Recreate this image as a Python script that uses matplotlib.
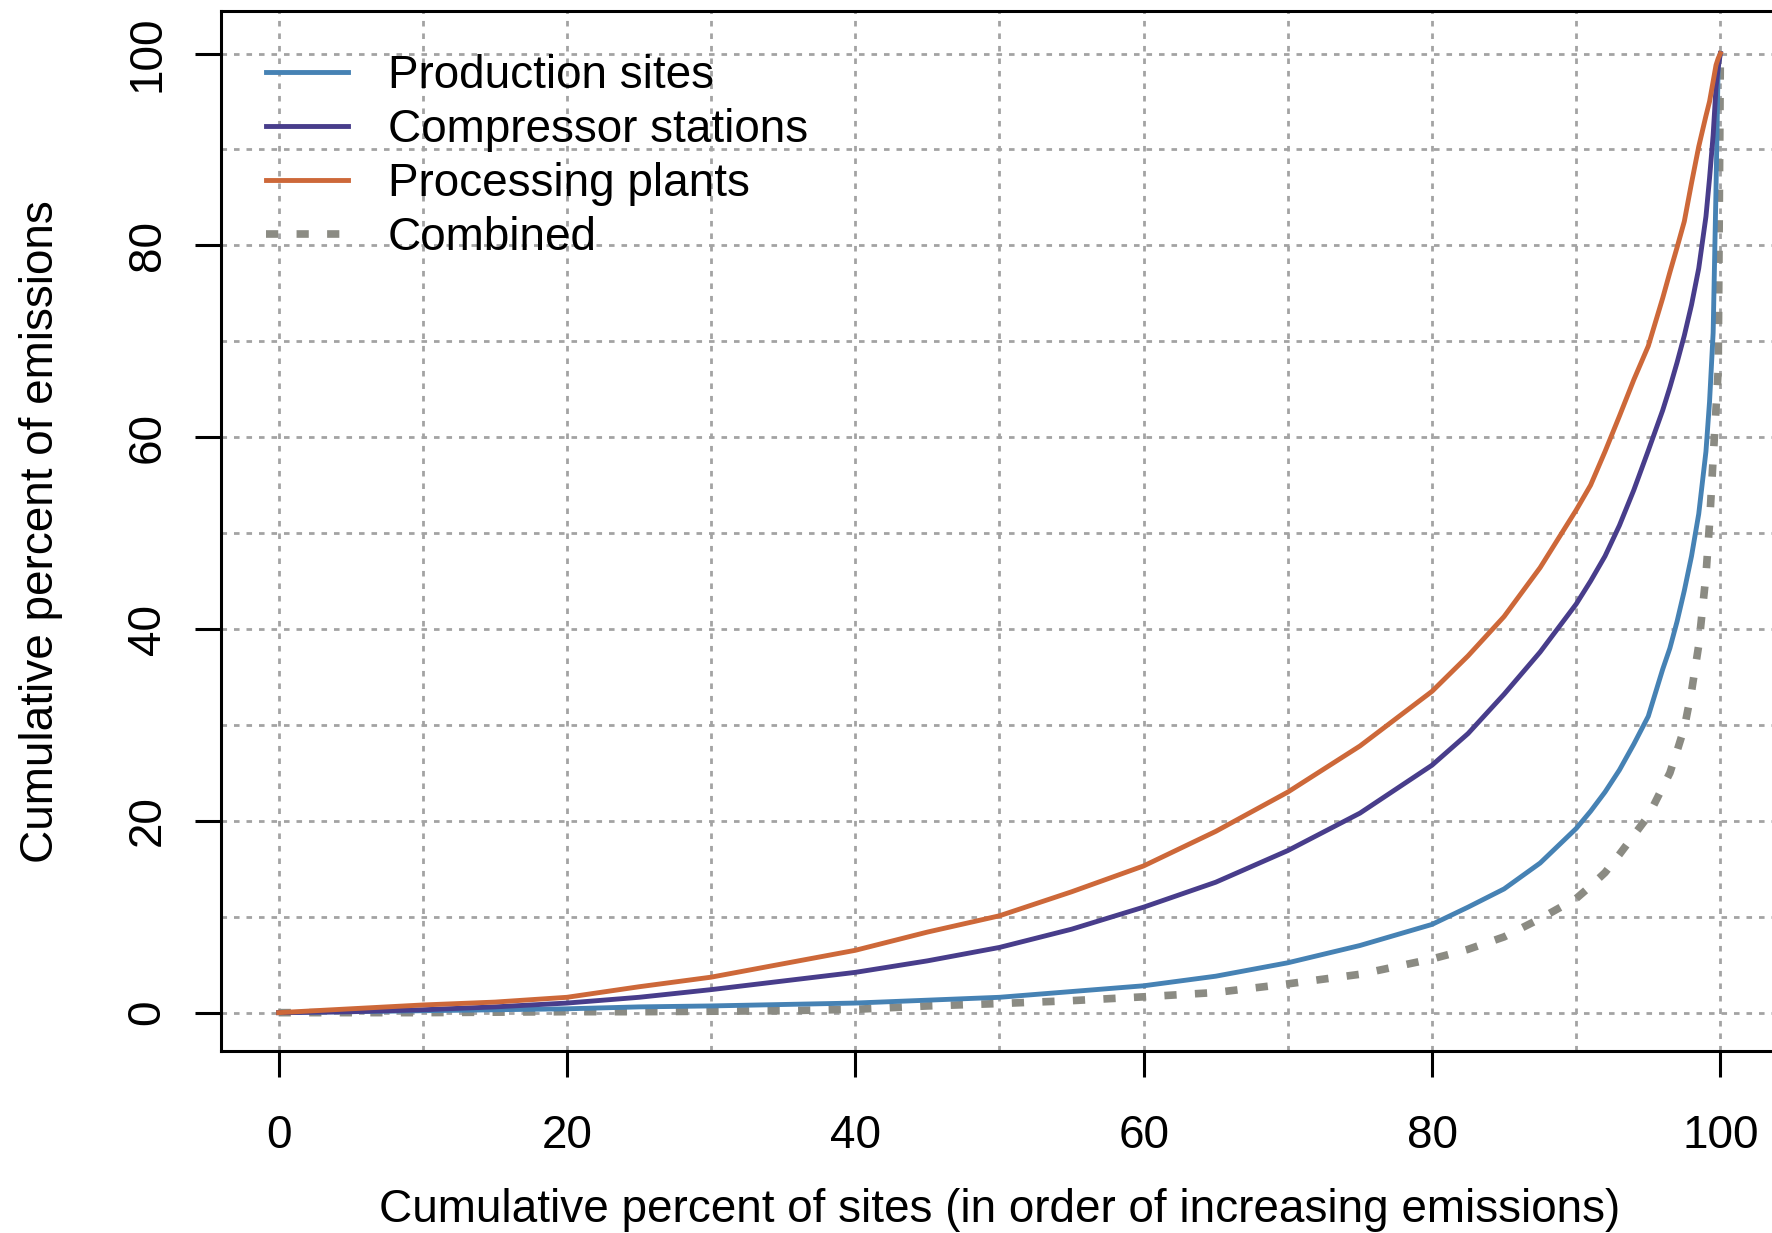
import matplotlib
matplotlib.use("Agg")
import matplotlib.pyplot as plt

plt.rcParams['font.family'] = ['Liberation Sans', 'DejaVu Sans']

# cumulative percent of sites (shared x for all curves)
pct_sites = [0, 5, 10, 15, 20, 25, 30, 35, 40, 45, 50, 55, 60, 65, 70, 75, 80, 82.5, 85, 87.5,
             90, 91, 92, 93, 94, 95, 96, 96.5, 97, 97.5, 98, 98.5, 99, 99.25, 99.5, 99.7, 99.85, 100]

production = [0, 0.1, 0.2, 0.3, 0.4, 0.6, 0.7, 0.85, 1.0, 1.3, 1.6, 2.2, 2.8, 3.8, 5.2, 7.0, 9.2,
              11.0, 12.9, 15.6, 19.2, 21.0, 23.0, 25.3, 28.0, 30.9, 35.8, 38.0, 40.8, 44.0, 47.6,
              52.0, 58.5, 63.7, 70.9, 86, 99, 100]
compressor = [0, 0.1, 0.3, 0.6, 1.0, 1.6, 2.4, 3.3, 4.2, 5.4, 6.8, 8.7, 11.0, 13.6, 16.9, 20.8,
              25.8, 29.1, 33.2, 37.6, 42.6, 45.0, 47.6, 50.8, 54.5, 58.6, 62.8, 65.2, 67.8, 70.6,
              73.8, 77.6, 83, 87, 91.5, 96.5, 98.5, 100]
processing = [0, 0.4, 0.8, 1.1, 1.6, 2.7, 3.7, 5.1, 6.5, 8.4, 10.1, 12.6, 15.3, 18.9, 23.0, 27.8,
              33.5, 37.2, 41.3, 46.4, 52.4, 55.0, 58.5, 62.2, 66.0, 69.5, 74.5, 77.2, 79.8, 82.5,
              86.5, 90.3, 93.5, 95.0, 97.1, 98.8, 99.5, 100]
combined = [0, 0, 0, 0.05, 0.1, 0.1, 0.15, 0.2, 0.35, 0.7, 0.95, 1.25, 1.65, 2.1, 3.0, 4.0, 5.6,
            6.6, 7.9, 9.8, 11.9, 13.2, 14.6, 16.5, 18.5, 20.5, 23.5, 25.0, 27.3, 29.7, 33.5, 38.3,
            45.6, 51, 57.8, 63, 67, 100]

series_names = ['Production sites', 'Compressor stations', 'Processing plants', 'Combined']
series_colors = ['#4682B4', '#483D8B', '#CD6839', '#8B8B83']
ticks = [0, 20, 40, 60, 80, 100]

fig = plt.figure(figsize=(17.72, 12.33), dpi=100)
ax = fig.add_axes([0.1247, 0.1476, 0.8787, 0.8432])

grid_kw = dict(color='#A3A3A3', lw=2.0, linestyle=(0, (2, 2.5)), zorder=1)
for g in range(0, 101, 10):
    ax.axvline(g, **grid_kw)
    ax.axhline(g, **grid_kw)

ax.plot(pct_sites, production, color=series_colors[0], lw=3.5, label=series_names[0], zorder=3)
ax.plot(pct_sites, compressor, color=series_colors[1], lw=3.5, label=series_names[1], zorder=3)
ax.plot(pct_sites, processing, color=series_colors[2], lw=3.5, label=series_names[2], zorder=3)
ax.plot(pct_sites, combined, color=series_colors[3], lw=5.5, linestyle=(0, (1.6, 2.4)),
        label=series_names[3], zorder=2)

ax.set_xlim(-4, 104)
ax.set_ylim(-4, 104.4)
ax.set_xticks(ticks)
ax.set_yticks(ticks)
ax.tick_params(axis='both', length=19, width=2.2, labelsize=33, direction='out')
ax.tick_params(axis='x', pad=26)
ax.tick_params(axis='y', pad=18, labelrotation=90)
for lab in ax.get_yticklabels():
    lab.set_va('center')
for sp in ax.spines.values():
    sp.set_linewidth(2.2)

ax.set_xlabel('Cumulative percent of sites (in order of increasing emissions)', fontsize=33, labelpad=22)
ax.set_ylabel('Cumulative percent of emissions', fontsize=33, labelpad=45)

fig.legend(loc='upper left', bbox_to_anchor=(0.137, 0.975), frameon=False, fontsize=33,
           handlelength=1.79, handletextpad=0.87, labelspacing=0.22, borderpad=0)

fig.savefig('out.png', dpi=100)
